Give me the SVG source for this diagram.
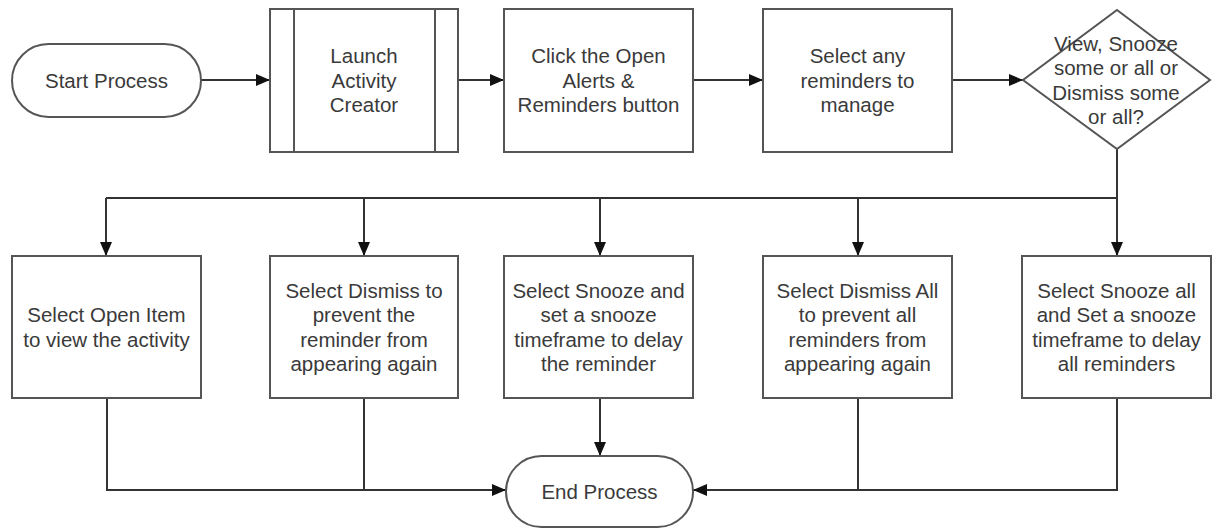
<svg xmlns="http://www.w3.org/2000/svg" width="1219" height="529" viewBox="0 0 1219 529">
  <style>
    .shape { fill: #ffffff; stroke: #555555; stroke-width: 2; }
    .label { font-family: "Liberation Sans", Arial, sans-serif; font-size: 20.5px; fill: #3a3a3a; text-anchor: middle; dominant-baseline: central; }
    .wire { fill: none; stroke: #333333; stroke-width: 2; }
    .arrow { marker-end: url(#head); }
  </style>
  <defs>
    <marker id="head" markerUnits="userSpaceOnUse" markerWidth="14" markerHeight="12" viewBox="0 0 14 12" refX="14" refY="6" orient="auto">
      <path d="M0,0 L14,6 L0,12 Z" fill="#111111"/>
    </marker>
  </defs>
  <rect width="1219" height="529" fill="#ffffff"/>

  <!-- connectors -->
  <g id="connectors">
    <path class="wire arrow" d="M201,80 H270"/>
    <path class="wire arrow" d="M458,80 H504"/>
    <path class="wire arrow" d="M693,80 H763"/>
    <path class="wire arrow" d="M952,80 H1023"/>
    <path class="wire" d="M1117,149 V198 H106"/>
    <path class="wire arrow" d="M106,198 V256"/>
    <path class="wire arrow" d="M364,198 V256"/>
    <path class="wire arrow" d="M600,198 V256"/>
    <path class="wire arrow" d="M858,198 V256"/>
    <path class="wire arrow" d="M1117,198 V256"/>
    <path class="wire arrow" d="M107,398 V490 H506"/>
    <path class="wire" d="M364,398 V490"/>
    <path class="wire arrow" d="M600,398 V456"/>
    <path class="wire arrow" d="M1117,398 V490 H693"/>
    <path class="wire" d="M858,398 V490"/>
  </g>

  <!-- top row -->
  <g id="start">
    <rect class="shape" x="12" y="44" width="189" height="73" rx="36.5" ry="36.5"/>
    <text class="label" x="106.5" y="80">Start Process</text>
  </g>
  <g id="launch">
    <rect class="shape" x="270" y="9" width="188" height="143"/>
    <line class="shape" x1="294" y1="9" x2="294" y2="152"/>
    <line class="shape" x1="435" y1="9" x2="435" y2="152"/>
    <text class="label" x="364" y="55.5">Launch</text>
    <text class="label" x="364" y="80">Activity</text>
    <text class="label" x="364" y="104.5">Creator</text>
  </g>
  <g id="open-alerts">
    <rect class="shape" x="504" y="9" width="189" height="143"/>
    <text class="label" x="598.5" y="55.5">Click the Open</text>
    <text class="label" x="598.5" y="80">Alerts &amp;</text>
    <text class="label" x="598.5" y="104.5">Reminders button</text>
  </g>
  <g id="select-reminders">
    <rect class="shape" x="763" y="9" width="189" height="143"/>
    <text class="label" x="857.5" y="55.5">Select any</text>
    <text class="label" x="857.5" y="80">reminders to</text>
    <text class="label" x="857.5" y="104.5">manage</text>
  </g>
  <g id="decision">
    <polygon class="shape" points="1117,10 1210,80 1117,149 1023,80"/>
    <text class="label" x="1116" y="43">View, Snooze</text>
    <text class="label" x="1116" y="67.5">some or all or</text>
    <text class="label" x="1116" y="92">Dismiss some</text>
    <text class="label" x="1116" y="116.5">or all?</text>
  </g>

  <!-- action row -->
  <g id="open-item">
    <rect class="shape" x="12" y="256" width="189" height="142"/>
    <text class="label" x="106.5" y="314.5">Select Open Item</text>
    <text class="label" x="106.5" y="339">to view the activity</text>
  </g>
  <g id="dismiss">
    <rect class="shape" x="270" y="256" width="188" height="142"/>
    <text class="label" x="364" y="290">Select Dismiss to</text>
    <text class="label" x="364" y="314.5">prevent the</text>
    <text class="label" x="364" y="339">reminder from</text>
    <text class="label" x="364" y="363.5">appearing again</text>
  </g>
  <g id="snooze">
    <rect class="shape" x="504" y="256" width="189" height="142"/>
    <text class="label" x="598.5" y="290">Select Snooze and</text>
    <text class="label" x="598.5" y="314.5">set a snooze</text>
    <text class="label" x="598.5" y="339">timeframe to delay</text>
    <text class="label" x="598.5" y="363.5">the reminder</text>
  </g>
  <g id="dismiss-all">
    <rect class="shape" x="763" y="256" width="189" height="142"/>
    <text class="label" x="857.5" y="290">Select Dismiss All</text>
    <text class="label" x="857.5" y="314.5">to prevent all</text>
    <text class="label" x="857.5" y="339">reminders from</text>
    <text class="label" x="857.5" y="363.5">appearing again</text>
  </g>
  <g id="snooze-all">
    <rect class="shape" x="1022" y="256" width="189" height="142"/>
    <text class="label" x="1116.5" y="290">Select Snooze all</text>
    <text class="label" x="1116.5" y="314.5">and Set a snooze</text>
    <text class="label" x="1116.5" y="339">timeframe to delay</text>
    <text class="label" x="1116.5" y="363.5">all reminders</text>
  </g>

  <g id="end">
    <rect class="shape" x="506" y="456" width="187" height="71" rx="35.5" ry="35.5"/>
    <text class="label" x="599.5" y="491">End Process</text>
  </g>
</svg>
